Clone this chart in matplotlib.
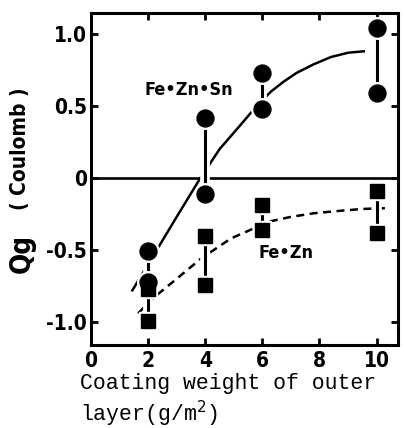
import matplotlib
matplotlib.use("Agg")
import matplotlib.pyplot as plt
import matplotlib.patheffects as pe

# ---- data ----
x_pts = [2, 4, 6, 10]
sn_high = [-0.51, 0.42, 0.73, 1.04]
sn_low = [-0.72, -0.11, 0.48, 0.59]
zn_high = [-0.77, -0.40, -0.19, -0.09]
zn_low = [-0.99, -0.74, -0.36, -0.38]

# hand-drawn trend curves
sn_fit_x = [1.45, 2.0, 3.0, 3.8, 4.5, 5.2, 5.8, 6.3, 6.75, 7.2, 7.8, 8.4, 9.0, 9.55]
sn_fit_y = [-0.78, -0.60, -0.27, -0.01, 0.20, 0.36, 0.50, 0.60, 0.67, 0.73, 0.79, 0.84, 0.87, 0.88]
zn_fit_x = [1.65, 2.2, 3.0, 3.85, 4.9, 5.7, 6.3, 7.0, 7.8, 8.6, 9.5, 10.3]
zn_fit_y = [-0.94, -0.83, -0.70, -0.56, -0.42, -0.35, -0.30, -0.27, -0.245, -0.23, -0.215, -0.21]

xticks = [0, 2, 4, 6, 8, 10]
yticks = [-1.0, -0.5, 0, 0.5, 1.0]
ytick_labels = ["-1.0", "-0.5", "0", "0.5", "1.0"]

sans = "DejaVu Sans"
mono = ["Liberation Mono", "DejaVu Sans Mono"]

fig = plt.figure(figsize=(4.04, 4.28), dpi=100)
ax = fig.add_axes([91 / 404, 1 - 345 / 428, 307 / 404, 332 / 428])

halo = [pe.Stroke(linewidth=7, foreground="white"), pe.Normal()]

ax.axhline(0, color="black", lw=1.9)
ax.plot(sn_fit_x, sn_fit_y, color="black", lw=1.8)
ax.plot(zn_fit_x, zn_fit_y, color="black", lw=1.8, dashes=(3.2, 2.2))

# range bars between the two measured values
for x, a, b in zip(x_pts, sn_high, sn_low):
    ax.plot([x, x], [a, b], color="black", lw=2.2, path_effects=halo)
for x, a, b in zip(x_pts, zn_high, zn_low):
    ax.plot([x, x], [a, b], color="black", lw=2.2, path_effects=halo)

# white rims first, then the black markers, so touching markers merge
for ys in (zn_high, zn_low):
    ax.plot(x_pts, ys, "s", color="white", ms=12.5, ls="none")
for ys in (sn_high, sn_low):
    ax.plot(x_pts, ys, "o", color="white", ms=15.5, ls="none")
for ys in (zn_high, zn_low):
    ax.plot(x_pts, ys, "s", color="black", ms=9.4, ls="none")
for ys in (sn_high, sn_low):
    ax.plot(x_pts, ys, "o", color="black", ms=12.2, ls="none")

ax.text(3.43, 0.61, "Fe\u2022Zn\u2022Sn", fontsize=13, fontweight="bold",
        family=sans, fontstretch="condensed", ha="center", va="center")
ax.text(6.82, -0.52, "Fe\u2022Zn", fontsize=13, fontweight="bold",
        family=sans, fontstretch="condensed", ha="center", va="center")

ax.set_xlim(0, 10.75)
ax.set_ylim(-1.16, 1.146)
ax.set_xticks(xticks)
ax.set_xticklabels([str(t) for t in xticks])
ax.set_yticks(yticks)
ax.set_yticklabels(ytick_labels)
ax.tick_params(direction="in", length=5, width=2, top=True, right=True,
               labelsize=15)
ax.tick_params(axis="x", pad=4)
ax.tick_params(axis="y", pad=3)
for lab in ax.get_xticklabels() + ax.get_yticklabels():
    lab.set_fontweight("bold")
    lab.set_family(sans)
    lab.set_fontstretch("condensed")
for sp in ax.spines.values():
    sp.set_linewidth(2.2)

fig.text(22 / 404, 1 - 253 / 428, "Qg", rotation=90, fontsize=20,
         fontweight="bold", family=sans, fontstretch="condensed",
         ha="center", va="center")
fig.text(20 / 404, 1 - 149 / 428, "( Coulomb )", rotation=90, fontsize=15,
         fontweight="bold", family=sans, fontstretch="condensed",
         ha="center", va="center")

fig.text(80 / 404, 1 - 389 / 428, "Coating weight of outer", fontsize=15.5,
         family=mono, ha="left", va="baseline")
fig.text(80 / 404, 1 - 421 / 428, "layer(g/m$^2$)", fontsize=15.5,
         family=mono, ha="left", va="baseline")

fig.savefig("out.png", dpi=100)
